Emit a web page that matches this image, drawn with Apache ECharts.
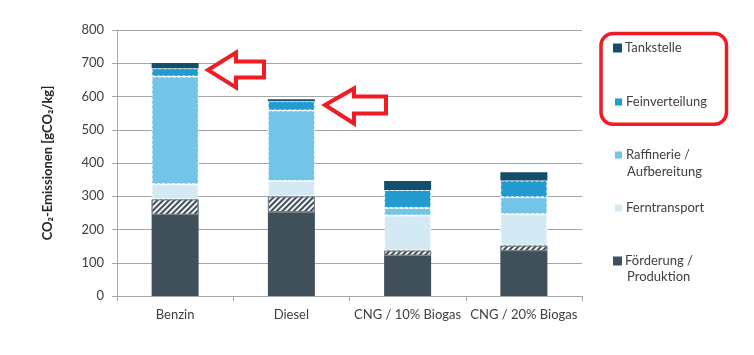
<!DOCTYPE html>
<html>
<head>
<meta charset="utf-8">
<script src="https://cdn.jsdelivr.net/npm/echarts@6/dist/echarts.min.js"></script>
<style>html,body{margin:0;padding:0;background:#fff;}#c{width:754px;height:355px;}</style>
</head>
<body>
<div id="c"></div>
<script>
const categories = ['Benzin', 'Diesel', 'CNG / 10% Biogas', 'CNG / 20% Biogas'];
const foerderung = [244, 252, 121, 135];
const foerderungSchraffiert = [47, 48, 16, 17];
const ferntransport = [45, 46, 105, 94];
const raffinerie = [324, 212, 23, 51];
const feinverteilung = [25, 28, 54, 50];
const tankstelle = [16, 6, 27, 25];
const yTicks = [0, 100, 200, 300, 400, 500, 600, 700, 800];

const FONT = 'Lato, "Open Sans", "DejaVu Sans", sans-serif';
const TXT = '#404040';
const GRID = '#a6a6a6';

const dashBorder = { borderColor: 'rgba(255,255,255,0.95)', borderWidth: 1, borderType: [3, 2] };

function bar(name, data, color, extra) {
  return {
    name: name, type: 'bar', stack: 'total', data: data, barWidth: 47,
    itemStyle: Object.assign({ color: color }, extra || {}),
    emphasis: { disabled: true }
  };
}

const series = [
  bar('Förderung / Produktion', foerderung, '#3f505b'),
  {
    name: 'Förderung / Produktion (Anteil)', type: 'bar', stack: 'total', data: foerderungSchraffiert, barWidth: 47,
    itemStyle: {
      color: '#f4f4f4', borderColor: '#7a8288', borderWidth: 1,
      decal: { symbol: 'rect', symbolSize: 1, dashArrayX: [1, 0], dashArrayY: [1.6, 1.6], rotation: -Math.PI / 4, color: '#3f505b' }
    },
    emphasis: { disabled: true }
  },
  bar('Ferntransport', ferntransport, '#d3eaf5', dashBorder),
  bar('Raffinerie / Aufbereitung', raffinerie, '#74c4e8', dashBorder),
  bar('Feinverteilung', feinverteilung, '#229bd0', dashBorder),
  bar('Tankstelle', tankstelle, '#134f6a')
];

function legendFor(name, label, top) {
  return {
    data: [name], left: 613, top: top, orient: 'vertical', padding: 0,
    itemWidth: 9, itemHeight: 9, itemGap: 4, icon: 'rect', selectedMode: false,
    formatter: function () { return label; },
    textStyle: { fontFamily: FONT, fontSize: 13, color: TXT, lineHeight: 16, padding: [0, 0, 0, -2] }
  };
}

const chart = echarts.init(document.getElementById('c'), null, { renderer: 'canvas' });
chart.setOption({
  animation: false,
  backgroundColor: '#ffffff',
  grid: { left: 117, right: 172, top: 30, bottom: 59, containLabel: false },
  legend: [
    legendFor('Tankstelle', 'Tankstelle', 40),
    legendFor('Feinverteilung', 'Feinverteilung', 94),
    legendFor('Raffinerie / Aufbereitung', 'Raffinerie /', 147),
    legendFor('Ferntransport', 'Ferntransport', 200),
    legendFor('Förderung / Produktion', 'Förderung /', 253)
  ],
  xAxis: {
    type: 'category', data: categories,
    axisLine: { show: true, lineStyle: { color: GRID, width: 1 } },
    axisTick: { show: true, length: 5, lineStyle: { color: GRID } },
    axisLabel: { fontFamily: FONT, fontSize: 13, color: TXT, margin: 12, interval: 0 }
  },
  yAxis: {
    type: 'value', min: 0, max: 800, interval: 100,
    name: 'CO\u2082-Emissionen [gCO\u2082/kg]', nameLocation: 'middle', nameGap: 63,
    nameTextStyle: { fontFamily: FONT, fontSize: 13, fontWeight: 'bold', color: '#262626' },
    axisLine: { show: true, lineStyle: { color: GRID, width: 1 } },
    axisTick: { show: true, length: 5, lineStyle: { color: GRID } },
    axisLabel: { fontFamily: FONT, fontSize: 13, color: TXT, margin: 13,
      formatter: function (v) { return yTicks.indexOf(v) >= 0 ? String(v) : ''; } },
    splitLine: { show: true, lineStyle: { color: GRID, width: 1 } }
  },
  series: series,
  graphic: [
    { type: 'text', left: 627, top: 165, style: { text: 'Aufbereitung', font: '13px ' + FONT, fill: TXT } },
    { type: 'text', left: 627, top: 270, style: { text: 'Produktion', font: '13px ' + FONT, fill: TXT } },
    { type: 'rect', shape: { x: 601, y: 33.5, width: 125.5, height: 90.7, r: 12 },
      style: { fill: 'none', stroke: '#ee1c24', lineWidth: 3.5 }, z: 100 },
    { type: 'polygon', shape: { points: [[208, 70], [236, 52.5], [236, 61.5], [264, 61.5], [264, 77.5], [236, 77.5], [236, 87.5]] },
      style: { fill: '#ffffff', stroke: '#ee1c24', lineWidth: 4, lineJoin: 'miter' }, z: 100 },
    { type: 'polygon', shape: { points: [[325, 105], [354, 88.5], [354, 96.5], [386, 96.5], [386, 113.5], [354, 113.5], [354, 123.5]] },
      style: { fill: '#ffffff', stroke: '#ee1c24', lineWidth: 4, lineJoin: 'miter' }, z: 100 }
  ]
});
</script>
</body>
</html>
